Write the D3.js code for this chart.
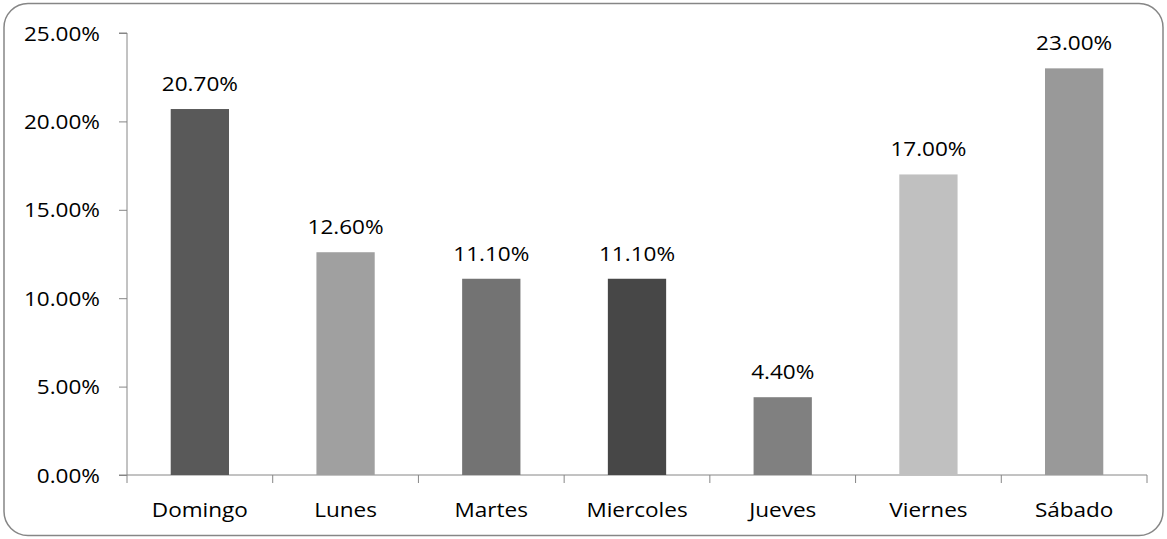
<!DOCTYPE html>
<html>
<head>
<meta charset="utf-8">
<script src="https://cdn.jsdelivr.net/npm/d3@7"></script>
<style>
  html, body { margin: 0; padding: 0; background: #fff; }
  svg { display: block; }
  text { font-family: "Open Sans", "Noto Sans", sans-serif; fill: #000; }
</style>
</head>
<body>
<svg id="chart" width="1167" height="539"></svg>
<script>
// Share of records per weekday
const days = ["Domingo", "Lunes", "Martes", "Miercoles", "Jueves", "Viernes", "Sábado"];
const shares = [20.7, 12.6, 11.1, 11.1, 4.4, 17.0, 23.0];
const barColors = ["#595959", "#a0a0a0", "#737373", "#474747", "#808080", "#c0c0c0", "#999999"];
const yTicks = [0, 5, 10, 15, 20, 25];

const svg = d3.select("#chart");
const plotLeft = 127, plotRight = 1147, plotTop = 33, plotBottom = 475;
const fontSize = 20.5, stretch = 1.1;

// Outer frame
svg.append("rect")
  .attr("x", 4).attr("y", 3.5)
  .attr("width", 1159).attr("height", 532)
  .attr("rx", 24).attr("ry", 24)
  .attr("fill", "#fff")
  .attr("stroke", "#868686")
  .attr("stroke-width", 1.5);

const x = d3.scaleBand().domain(days).range([plotLeft, plotRight]).paddingInner(0.6).paddingOuter(0.3);
const y = d3.scaleLinear().domain([0, 25]).range([plotBottom, plotTop]);

// Text helper: horizontally widened glyphs
function label(g, tx, ty, str, anchor) {
  g.append("text")
    .attr("transform", `translate(${tx},${ty}) scale(${stretch},1)`)
    .attr("text-anchor", anchor)
    .attr("font-size", fontSize)
    .text(str);
}

// Y axis
const yAxis = svg.append("g").attr("transform", `translate(${plotLeft},0)`)
  .call(d3.axisLeft(y).tickValues(yTicks).tickSize(8).tickFormat(""));
yAxis.select(".domain").attr("stroke", "#868686").attr("d", `M-8,${plotTop}H0V${plotBottom}H-8`);
yAxis.selectAll(".tick line").attr("stroke", "#868686");
const yLabels = svg.append("g");
yTicks.forEach(t => label(yLabels, 100, y(t) + 7.5, d3.format(".2f")(t) + "%", "end"));

// X axis with boundary ticks between categories
const xAxis = svg.append("g").attr("transform", `translate(0,${plotBottom})`);
xAxis.append("line").attr("x1", plotLeft).attr("x2", plotRight).attr("y1", 0).attr("y2", 0).attr("stroke", "#868686");
const step = x.step();
d3.range(days.length + 1).forEach(i => {
  const bx = plotLeft + i * step;
  xAxis.append("line").attr("x1", bx).attr("x2", bx).attr("y1", 0).attr("y2", 8).attr("stroke", "#868686");
});
const xLabels = svg.append("g");
days.forEach(d => label(xLabels, x(d) + x.bandwidth() / 2, 517, d, "middle"));

// Bars
svg.append("g").selectAll("rect")
  .data(days.map((d, i) => ({ day: d, v: shares[i], c: barColors[i] })))
  .join("rect")
  .attr("x", d => x(d.day))
  .attr("width", x.bandwidth())
  .attr("y", d => y(d.v))
  .attr("height", d => y(0) - y(d.v))
  .attr("fill", d => d.c);

// Value labels
const vLabels = svg.append("g");
days.forEach((d, i) => label(vLabels, x(d) + x.bandwidth() / 2, y(shares[i]) - 18, d3.format(".2f")(shares[i]) + "%", "middle"));
</script>
</body>
</html>
